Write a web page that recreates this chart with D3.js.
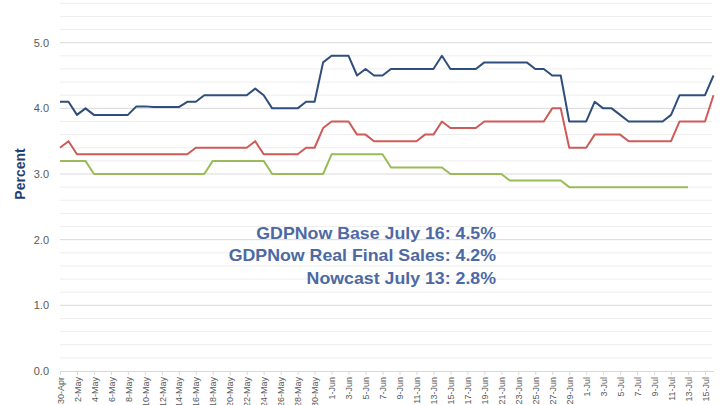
<!DOCTYPE html>
<html><head><meta charset="utf-8">
<script src="https://cdn.jsdelivr.net/npm/d3@7"></script>
<style>
body{margin:0;background:#fff;}
svg{display:block;font-family:"Liberation Sans",Arial,sans-serif;}
</style></head>
<body>
<svg id="c" width="720" height="405"></svg>
<script>
const startDate = "2018-04-30";
const endDate = "2018-07-16";
const gdpNowBase = [4.1,4.1,3.9,4.0,3.9,3.9,3.9,3.9,3.9,4.03,4.03,4.02,4.02,4.02,4.02,4.1,4.1,4.2,4.2,4.2,4.2,4.2,4.2,4.3,4.2,4.0,4.0,4.0,4.0,4.1,4.1,4.7,4.8,4.8,4.8,4.5,4.6,4.5,4.5,4.6,4.6,4.6,4.6,4.6,4.6,4.8,4.6,4.6,4.6,4.6,4.7,4.7,4.7,4.7,4.7,4.7,4.6,4.6,4.5,4.5,3.8,3.8,3.8,4.1,4.0,4.0,3.9,3.8,3.8,3.8,3.8,3.8,3.9,4.2,4.2,4.2,4.2,4.5];
const realFinalSales = [3.4,3.5,3.3,3.3,3.3,3.3,3.3,3.3,3.3,3.3,3.3,3.3,3.3,3.3,3.3,3.3,3.4,3.4,3.4,3.4,3.4,3.4,3.4,3.5,3.3,3.3,3.3,3.3,3.3,3.4,3.4,3.7,3.8,3.8,3.8,3.6,3.6,3.5,3.5,3.5,3.5,3.5,3.5,3.6,3.6,3.8,3.7,3.7,3.7,3.7,3.8,3.8,3.8,3.8,3.8,3.8,3.8,3.8,4.0,4.0,3.4,3.4,3.4,3.6,3.6,3.6,3.6,3.5,3.5,3.5,3.5,3.5,3.5,3.8,3.8,3.8,3.8,4.2];
const nowcast = [3.2,3.2,3.2,3.2,3.0,3.0,3.0,3.0,3.0,3.0,3.0,3.0,3.0,3.0,3.0,3.0,3.0,3.0,3.2,3.2,3.2,3.2,3.2,3.2,3.2,3.0,3.0,3.0,3.0,3.0,3.0,3.0,3.3,3.3,3.3,3.3,3.3,3.3,3.3,3.1,3.1,3.1,3.1,3.1,3.1,3.1,3.0,3.0,3.0,3.0,3.0,3.0,3.0,2.9,2.9,2.9,2.9,2.9,2.9,2.9,2.8,2.8,2.8,2.8,2.8,2.8,2.8,2.8,2.8,2.8,2.8,2.8,2.8,2.8,2.8];
const yTicks = [0,1,2,3,4,5];
const annotations = ["GDPNow Base July 16: 4.5%","GDPNow Real Final Sales: 4.2%","Nowcast July 13: 2.8%"];

const parse = d3.timeParse("%Y-%m-%d");
const dates = d3.timeDay.range(parse(startDate), d3.timeDay.offset(parse(endDate),1));
const fmt = d3.timeFormat("%-d-%b");
const cats = dates.map(fmt);

const svg = d3.select("#c");
const x = d3.scalePoint().domain(cats).range([60, 713.5]);
const y = d3.scaleLinear().domain([0, 5.65]).range([371, 0]);

// gridlines
const grid = d3.range(1, 29).map(k => +(k*0.2).toFixed(1));
svg.append("g").selectAll("line").data(grid).join("line")
  .attr("x1", 60).attr("x2", 712)
  .attr("y1", d => y(d)).attr("y2", d => y(d))
  .attr("stroke", d => Math.abs(d - Math.round(d)) < 1e-6 ? "#d9d9d9" : "#eeeeee")
  .attr("stroke-width", 1);

// x axis
const xAxis = d3.axisBottom(x)
  .tickValues(cats.filter((d,i) => i % 2 === 0))
  .tickSize(4).tickSizeOuter(0);
const gx = svg.append("g").attr("transform", "translate(0,371)").call(xAxis);
gx.select(".domain").attr("stroke", "#d9d9d9");
gx.selectAll(".tick line").attr("stroke", "#d9d9d9");
gx.selectAll(".tick text")
  .attr("fill", "#595959").attr("font-size", 9)
  .attr("font-family", "Liberation Sans, Arial, sans-serif")
  .attr("transform", "rotate(-90)")
  .attr("text-anchor", "end")
  .attr("x", -6).attr("y", 0).attr("dy", "0.35em");

// y axis labels
const yAxis = d3.axisLeft(y).tickValues(yTicks).tickFormat(d3.format(".1f")).tickSize(0);
const gy = svg.append("g").attr("transform", "translate(50,0)").call(yAxis);
gy.select(".domain").remove();
gy.selectAll(".tick text").attr("fill", "#595959").attr("font-size", 11)
  .attr("font-family", "Liberation Sans, Arial, sans-serif").attr("x", -1);

// y title
svg.append("text").attr("transform", "translate(25,174) rotate(-90)")
  .attr("text-anchor", "middle").attr("font-size", 14).attr("font-weight", "bold")
  .attr("fill", "#1f3f73").text("Percent");

const line = d3.line().x((d,i) => x(cats[i])).y(d => y(d));
const series = [
  {v: nowcast, c: "#9bbb59"},
  {v: realFinalSales, c: "#cd5b58"},
  {v: gdpNowBase, c: "#2f4e7c"}
];
svg.append("g").selectAll("path").data(series).join("path")
  .attr("d", d => line(d.v)).attr("fill", "none")
  .attr("stroke", d => d.c).attr("stroke-width", 2).attr("stroke-linejoin", "round");

// annotations
svg.append("g").selectAll("text").data(annotations).join("text")
  .attr("transform", (d,i) => `translate(496,${239 + i*22.3}) scale(1.11,1)`)
  .attr("x", 0).attr("y", 0)
  .attr("text-anchor", "end").attr("font-size", 16).attr("font-weight", "bold")
  .attr("fill", "#4d69a3").text(d => d);
</script>
</body></html>
